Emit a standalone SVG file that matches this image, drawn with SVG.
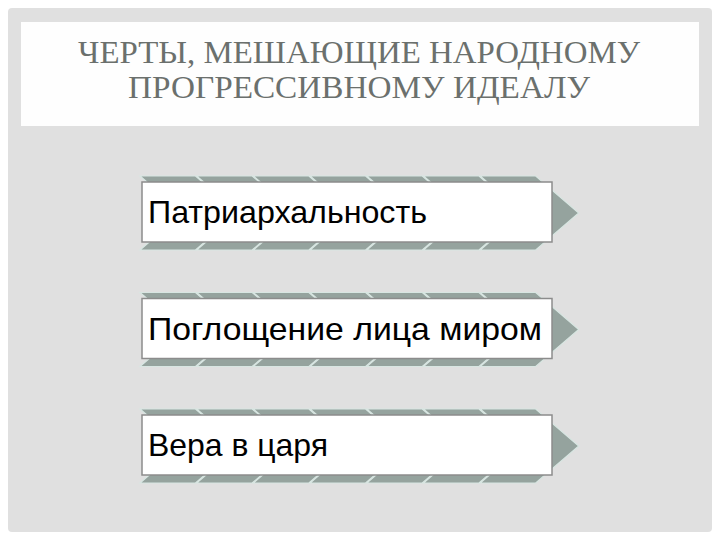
<svg xmlns="http://www.w3.org/2000/svg" xmlns:xlink="http://www.w3.org/1999/xlink" width="720" height="540" viewBox="0 0 720 540">
  <style>
    .title { font-family: "Liberation Serif", "DejaVu Serif", serif; font-size: 31px; fill: #6b706d; text-anchor: middle; }
    .item { font-family: "Liberation Sans", "DejaVu Sans", sans-serif; font-size: 32px; fill: #000000; }
    .box { fill: #ffffff; stroke: #8c8c8c; stroke-width: 1.5; }
    .chev { fill: #95a39e; stroke: #d8e6e2; stroke-width: 1.2; }
  </style>
  <defs>
    <path id="chev" class="chev" d="M0,0 h55.5 l43,37 l-43,37 h-55.5 l43,-37 z"/>
    <g id="arrow">
      <use xlink:href="#chev" x="140"/>
      <use xlink:href="#chev" x="196.7"/>
      <use xlink:href="#chev" x="253.4"/>
      <use xlink:href="#chev" x="310.1"/>
      <use xlink:href="#chev" x="366.8"/>
      <use xlink:href="#chev" x="423.5"/>
      <use xlink:href="#chev" x="480.2"/>
    </g>
  </defs>
  <rect x="0" y="0" width="720" height="540" fill="#ffffff"/>
  <rect x="8" y="8" width="704" height="524" rx="4" fill="#e0e0e0"/>

  <g id="title">
    <rect x="21" y="22" width="678" height="104" fill="#fefefe"/>
    <text class="title" x="359" y="63" textLength="562" lengthAdjust="spacingAndGlyphs">ЧЕРТЫ, МЕШАЮЩИЕ НАРОДНОМУ</text>
    <text class="title" x="359" y="98" textLength="462" lengthAdjust="spacingAndGlyphs">ПРОГРЕССИВНОМУ ИДЕАЛУ</text>
  </g>

  <g id="item1">
    <use xlink:href="#arrow" y="176"/>
    <rect class="box" x="142" y="182" width="410" height="60"/>
    <text class="item" x="148" y="223" textLength="279" lengthAdjust="spacingAndGlyphs">Патриархальность</text>
  </g>

  <g id="item2">
    <use xlink:href="#arrow" y="292.5"/>
    <rect class="box" x="142" y="298.5" width="410" height="60"/>
    <text class="item" x="148" y="340" textLength="394" lengthAdjust="spacingAndGlyphs">Поглощение лица миром</text>
  </g>

  <g id="item3">
    <use xlink:href="#arrow" y="409"/>
    <rect class="box" x="142" y="415" width="410" height="60"/>
    <text class="item" x="148" y="456" textLength="180" lengthAdjust="spacingAndGlyphs">Вера в царя</text>
  </g>
</svg>
